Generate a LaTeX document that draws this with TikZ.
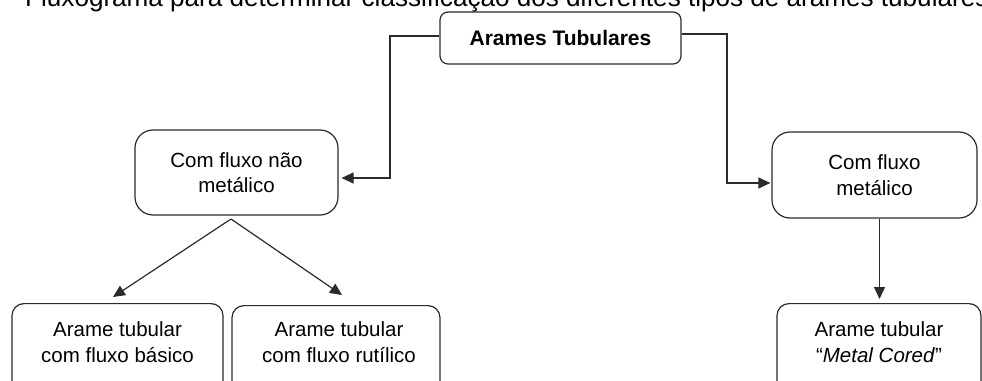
\documentclass[tikz,border=0pt]{standalone}
\usepackage{fontspec}
\setmainfont{Liberation Sans}
\usetikzlibrary{arrows.meta}
\definecolor{ink}{HTML}{2B2B2B}
\tikzset{
  box/.style={draw=ink, line width=1.2pt, inner sep=0pt, align=center,
    font=\fontsize{20.5}{25.5}\selectfont},
  txt/.style={inner sep=0pt, align=center, font=\fontsize{20.5}{25.5}\selectfont},
  link/.style={draw=ink, line width=1.2pt, -{Triangle[length=12pt,width=11pt]}},
}
\begin{document}
\begin{tikzpicture}[x=1pt,y=-1pt]
\useasboundingbox (0,0) rectangle (982,380);
\clip (0,0) rectangle (982,380);

% caption, running off the top edge
\node[anchor=base west, inner sep=0pt, font=\fontsize{26.1}{30}\selectfont] (cap) at (25,6.5)
  {Fluxograma para determinar classificação dos diferentes tipos de arames tubulares};

% boxes
\node[box, rounded corners=8pt, minimum width=241pt, minimum height=52pt,
  font=\bfseries\fontsize{21}{25}\selectfont] (top) at (560.5,38) {Arames Tubulares};
\node[box, rounded corners=18pt, minimum width=203pt, minimum height=85pt] (nm) at (236.5,172.5)
  {Com fluxo não\\metálico};
\node[box, rounded corners=18pt, minimum width=205pt, minimum height=86pt] (m) at (874.5,175)
  {Com fluxo\\metálico};

\node[box, rounded corners=12pt, minimum width=211pt, minimum height=100pt, anchor=north] (b1) at (117.5,303) {};
\node[box, rounded corners=12pt, minimum width=208pt, minimum height=100pt, anchor=north] (b2) at (336,305) {};
\node[box, rounded corners=12pt, minimum width=204pt, minimum height=100pt, anchor=north] (b3) at (879,303) {};

\node[txt] (b1t) at (117.5,342) {Arame tubular\\com fluxo básico};
\node[txt] (b2t) at (339,342) {Arame tubular\\com fluxo rutílico};
\node[txt] (b3t) at (879,342) {Arame tubular\\“\textit{Metal Cored}”};

% connectors
\coordinate (lbend) at (390,178);
\coordinate (rbend) at (727,183);
\coordinate (split) at (231,219);
\coordinate (ltip) at (113,297);
\coordinate (rtip) at (342,295);

\draw[link, shorten >=3pt] ([yshift=2pt]top.west) -| (lbend) -- (lbend -| nm.east);
\draw[link, shorten >=1pt] ([yshift=4pt]top.east) -| (rbend) -- (rbend -| m.west);
\draw[link] (split) -- (ltip);
\draw[link] (split) -- (rtip);
\draw[link, shorten >=4pt] ([xshift=5pt]m.south) -- ([xshift=5pt]m.south |- b3.north);
\end{tikzpicture}
\end{document}
